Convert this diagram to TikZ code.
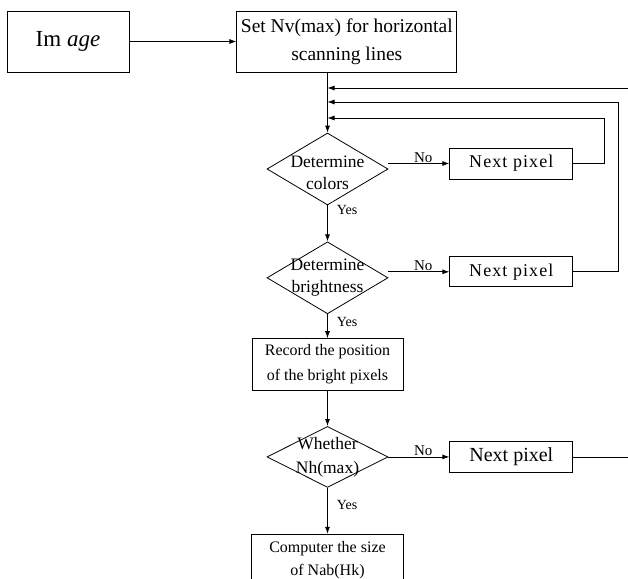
\documentclass[tikz,border=0pt]{standalone}
\usepackage{fontspec}
\setmainfont{Liberation Serif}
\usetikzlibrary{shapes.geometric, arrows.meta, positioning}
\tikzstyle{process} = [rectangle, draw=black, fill=white, line width=0.8pt, align=center, inner sep=0pt]
\tikzstyle{decision} = [diamond, draw=black, fill=white, line width=0.8pt, inner sep=0pt, minimum width=121pt, minimum height=72pt]
\tikzstyle{dtext} = [align=center, font=\fontsize{17.5}{22}\selectfont]
\tikzstyle{nextbox} = [process, minimum width=123pt, minimum height=31pt, font=\fontsize{18}{22}\selectfont\addfontfeature{LetterSpace=6}]
\tikzstyle{arrow} = [line width=0.8pt, -{Latex[length=7pt, width=5pt]}]
\tikzstyle{line} = [line width=0.8pt]
\tikzstyle{yes} = [anchor=west, inner sep=2pt, xshift=7pt, font=\fontsize{14}{16}\selectfont]
\tikzstyle{no} = [anchor=south, inner sep=0.5pt, font=\fontsize{15}{17}\selectfont]

\begin{document}
\begin{tikzpicture}[x=1pt, y=1pt]
	\clip (0,0) rectangle (628,-578);
	\node (img) [process, minimum width=122pt, minimum height=61pt, font=\fontsize{23}{27}\selectfont] at (68,-41.5) {Im \textit{age}};
	\node (set) [process, right=107pt of img, minimum width=220pt, minimum height=61pt, font=\fontsize{19.5}{28}\selectfont] {Set Nv(max) for horizontal\\scanning lines};

	\node (d1) [decision, label={[dtext, yshift=-4pt]center:{Determine\\colors}}] at (327.5,-169) {};
	\node (np1) [nextbox, right=61pt of d1, yshift=5.5pt] {Next pixel};
	\node (d2) [decision, below=36pt of d1, label={[dtext]center:{Determine\\brightness}}] {};
	\node (np2) [nextbox, right=61pt of d2, yshift=6pt, minimum height=30pt] {Next pixel};
	\node (rec) [process, below=24pt of d2, minimum width=151pt, minimum height=52pt, font=\fontsize{16}{25}\selectfont] {Record the position\\of the bright pixels};
	\node (d3) [decision, below=35pt of rec, minimum height=61pt, label={[dtext, font=\fontsize{17.5}{24}\selectfont]center:{Whether\\Nh(max)}}] {};
	\node (np3) [process, right=61pt of d3, minimum width=123pt, minimum height=31pt, font=\fontsize{20}{24}\selectfont] {Next pixel};
	\node (comp) [process, below=46pt of d3, minimum width=152pt, minimum height=52pt, font=\fontsize{16}{23}\selectfont] {Computer the size\\of Nab(Hk)};

	% joints on the main line
	\coordinate (j1) at (327.5,-88);
	\coordinate (j2) at (327.5,-102);
	\coordinate (j3) at (327.5,-118);
	\coordinate (edge1) at (628,-88);
	\coordinate (edge3) at (np3.east -| edge1);

	\draw [arrow] (img) -- (set);
	\draw [arrow] (set.south -| d1.north) -- (d1.north);
	\draw [arrow] (d1.south) -- node [yes, pos=0.14] {Yes} (d2.north);
	\draw [arrow] (d2.south) -- node [yes, pos=0.33] {Yes} (rec.north);
	\draw [arrow] (rec.south) -- (d3.north);
	\draw [arrow] (d3.south) -- node [yes, pos=0.37] {Yes} (comp.north);

	\draw [arrow] (d1.east |- np1.west) -- node [no, pos=0.57] {No} (np1.west);
	\draw [arrow] (d2.east |- np2.west) -- node [no, pos=0.57] {No} (np2.west);
	\draw [arrow] (d3.east) -- node [no, pos=0.57] {No} (np3.west);

	\draw [arrow] (np1.east) -- ++(31,0) |- (j3);
	\draw [arrow] (np2.east) -- ++(45.5,0) |- (j2);
	\draw [arrow] (edge1) -- (j1);
	\draw [line] (np3.east) -- (edge3);
\end{tikzpicture}
\end{document}
